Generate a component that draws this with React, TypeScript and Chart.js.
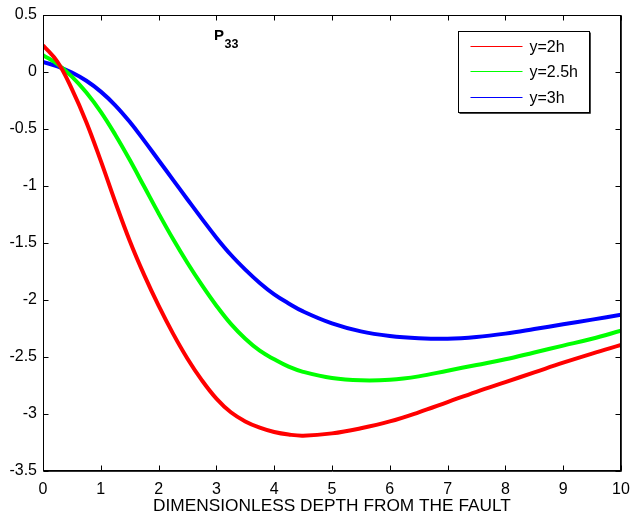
import React, { useEffect, useRef } from "react";
import { Chart, registerables } from "chart.js";

Chart.register(...registerables);

const depth = [0, 0.25, 0.5, 0.75, 1, 1.25, 1.5, 1.75, 2, 2.25, 2.5, 2.75, 3, 3.25, 3.5, 3.75, 4, 4.25, 4.5, 5, 5.5, 6, 6.5, 7, 7.5, 8, 8.5, 9, 9.5, 10];
const y2h = [0.235, 0.09, -0.15, -0.44, -0.78, -1.14, -1.48, -1.78, -2.05, -2.295, -2.515, -2.705, -2.865, -2.985, -3.065, -3.12, -3.158, -3.18, -3.19, -3.17, -3.125, -3.065, -2.985, -2.895, -2.805, -2.72, -2.635, -2.55, -2.47, -2.395];
const y25h = [0.147, 0.07, -0.04, -0.18, -0.35, -0.55, -0.77, -1.005, -1.24, -1.465, -1.675, -1.87, -2.05, -2.21, -2.34, -2.445, -2.52, -2.585, -2.63, -2.685, -2.705, -2.7, -2.67, -2.62, -2.57, -2.52, -2.46, -2.4, -2.34, -2.27];
const y3h = [0.088, 0.05, -0.005, -0.077, -0.172, -0.292, -0.437, -0.602, -0.774, -0.946, -1.118, -1.288, -1.453, -1.603, -1.733, -1.85, -1.95, -2.03, -2.1, -2.205, -2.275, -2.315, -2.335, -2.34, -2.325, -2.295, -2.255, -2.213, -2.172, -2.13];
const seriesLabels = ["y=2h", "y=2.5h", "y=3h"];
const seriesColors = ["#ff0000", "#00ff00", "#0000ff"];
const xTitle = "DIMENSIONLESS DEPTH FROM THE FAULT";
const annotationMain = "P";
const annotationSub = "33";
const annotationPos = { x: 2.96, y: 0.28 };

const FONT = "'Liberation Sans', Arial, sans-serif";

const framePlugin = {
  id: "matlabFrame",
  afterDatasetsDraw(chart: any) {
    const { ctx, chartArea: a, scales } = chart;
    ctx.save();
    // P33 annotation
    const px = scales.x.getPixelForValue(annotationPos.x);
    const py = scales.y.getPixelForValue(annotationPos.y);
    ctx.fillStyle = "#000";
    ctx.textBaseline = "alphabetic";
    ctx.textAlign = "left";
    ctx.font = `bold 15px ${FONT}`;
    ctx.fillText(annotationMain, px, py);
    const pw = ctx.measureText(annotationMain).width;
    ctx.font = `bold 12.5px ${FONT}`;
    ctx.fillText(annotationSub, px + pw + 0.5, py + 7.5);

    // frame
    ctx.strokeStyle = "#000";
    ctx.lineWidth = 1;
    const L = Math.round(a.left) + 0.5, R = Math.round(a.right) - 0.5;
    const T = Math.round(a.top) + 0.5, B = Math.round(a.bottom) - 0.5;
    ctx.strokeRect(L, T, R - L, B - T);
    ctx.strokeStyle = "#333";
    ctx.beginPath();
    ctx.moveTo(R + 1, T); ctx.lineTo(R + 1, B + 1);
    ctx.moveTo(L, B + 1); ctx.lineTo(R + 1, B + 1);
    ctx.stroke();

    // inward ticks
    ctx.strokeStyle = "#000";
    ctx.beginPath();
    const tl = 5;
    scales.x.ticks.forEach((t: any) => {
      const x = Math.round(scales.x.getPixelForValue(t.value)) + 0.5;
      ctx.moveTo(x, B); ctx.lineTo(x, B - tl);
      ctx.moveTo(x, T); ctx.lineTo(x, T + tl);
    });
    scales.y.ticks.forEach((t: any) => {
      const y = Math.round(scales.y.getPixelForValue(t.value)) + 0.5;
      ctx.moveTo(L, y); ctx.lineTo(L + tl, y);
      ctx.moveTo(R, y); ctx.lineTo(R - tl, y);
    });
    ctx.stroke();

    // legend
    const bw = 131, bh = 81;
    const bx = Math.round(a.right - 32 - bw) + 0.5;
    const by = Math.round(a.top + 16) + 0.5;
    ctx.fillStyle = "#fff";
    ctx.fillRect(bx, by, bw, bh);
    ctx.strokeStyle = "#000";
    ctx.strokeRect(bx, by, bw, bh);
    ctx.strokeStyle = "#444";
    ctx.beginPath();
    ctx.moveTo(bx + bw + 1, by + 1); ctx.lineTo(bx + bw + 1, by + bh + 1);
    ctx.moveTo(bx + 1, by + bh + 1); ctx.lineTo(bx + bw + 1, by + bh + 1);
    ctx.stroke();
    ctx.font = `16px ${FONT}`;
    ctx.textBaseline = "middle";
    seriesLabels.forEach((lab, i) => {
      const ry = Math.round(by + 14 + i * 25.5) + 0.5;
      ctx.strokeStyle = seriesColors[i];
      ctx.lineWidth = 1;
      ctx.beginPath();
      ctx.moveTo(bx + 12, ry); ctx.lineTo(bx + 64, ry);
      ctx.stroke();
      ctx.fillStyle = "#000";
      ctx.fillText(lab, bx + 71, ry + 1);
    });
    ctx.restore();
  },
};

export default function App() {
  const ref = useRef<HTMLCanvasElement>(null);
  useEffect(() => {
    if (!ref.current) return;
    const series = [y2h, y25h, y3h];
    const chart = new Chart(ref.current, {
      type: "line",
      data: {
        datasets: series.map((s, i) => ({
          label: seriesLabels[i],
          data: depth.map((d, j) => ({ x: d, y: s[j] })),
          borderColor: seriesColors[i],
          backgroundColor: seriesColors[i],
          borderWidth: 4,
          pointRadius: 0,
          tension: 0.4,
          fill: false,
        })),
      },
      options: {
        animation: false,
        responsive: false,
        maintainAspectRatio: false,
        layout: { padding: { top: 15, right: 12, left: 0, bottom: 0 } },
        plugins: { legend: { display: false }, tooltip: { enabled: false } },
        scales: {
          x: {
            type: "linear",
            min: 0,
            max: 10,
            ticks: { stepSize: 1, color: "#000", font: { family: FONT, size: 16 }, padding: 9, maxRotation: 0 },
            grid: { display: false, drawTicks: false },
            border: { display: false },
            title: { display: true, text: xTitle, color: "#000", font: { family: FONT, size: 17.3 }, padding: { top: 0, bottom: 0 } },
            afterFit: (s: any) => { s.height = 46; s.paddingLeft = 0; s.paddingRight = 0; },
          },
          y: {
            type: "linear",
            min: -3.5,
            max: 0.5,
            ticks: {
              stepSize: 0.5,
              color: "#000",
              font: { family: FONT, size: 16 },
              padding: 6,
              callback: (v: any) => String(Math.round(Number(v) * 10) / 10),
            },
            grid: { display: false, drawTicks: false },
            border: { display: false },
            afterFit: (s: any) => { s.width = 43; s.paddingTop = 0; s.paddingBottom = 0; },
          },
        },
      },
      plugins: [framePlugin],
    });
    return () => chart.destroy();
  }, []);
  return (
    <div style={{ position: "absolute", left: 0, top: 0, width: 633, height: 517, background: "#fff" }}>
      <canvas ref={ref} width={633} height={517} style={{ width: 633, height: 517, display: "block" }} />
    </div>
  );
}
